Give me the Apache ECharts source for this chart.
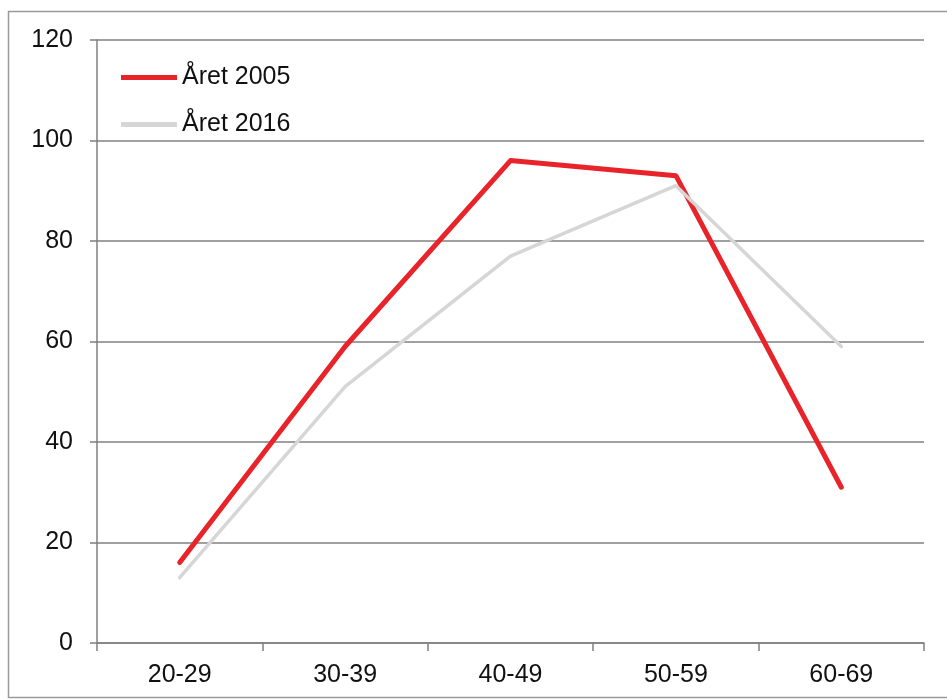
<!DOCTYPE html>
<html>
<head>
<meta charset="utf-8">
<script src="https://cdn.jsdelivr.net/npm/echarts@6/dist/echarts.min.js"></script>
<style>
html,body{margin:0;padding:0;background:#fff;}
#c{width:947px;height:699px;}
</style>
</head>
<body>
<div id="c"></div>
<script>
const categories = ['20-29', '30-39', '40-49', '50-59', '60-69'];
const seriesNames = ['Året 2005', 'Året 2016'];
const values2005 = [16, 59, 96, 93, 31];
const values2016 = [13, 51, 77, 91, 59];
const yTicks = { min: 0, max: 120, interval: 20 };

const chart = echarts.init(document.getElementById('c'), null, { renderer: 'canvas' });
const font = '"Liberation Sans", Arial, sans-serif';
chart.setOption({
  animation: false,
  backgroundColor: '#fff',
  graphic: [{
    type: 'rect',
    shape: { x: 8.5, y: 11.5, width: 946, height: 686 },
    style: { fill: 'none', stroke: '#9a9a9a', lineWidth: 1.5 },
    z: -1
  }],
  grid: { left: 97, right: 23, top: 40, bottom: 56, containLabel: false },
  legend: {
    orient: 'vertical',
    left: 116,
    top: 60,
    itemGap: 22,
    itemWidth: 56,
    itemHeight: 5,
    icon: 'rect',
    textStyle: { fontFamily: font, fontSize: 25, color: '#111' },
    data: seriesNames
  },
  xAxis: {
    type: 'category',
    data: categories,
    boundaryGap: true,
    axisLine: { show: true, lineStyle: { color: '#808080', width: 1.5 } },
    axisTick: { show: true, length: 8, lineStyle: { color: '#808080', width: 1.5 } },
    axisLabel: { fontFamily: font, fontSize: 25, color: '#111', margin: 20 },
    splitLine: { show: false }
  },
  yAxis: {
    type: 'value',
    min: yTicks.min,
    max: yTicks.max,
    interval: yTicks.interval,
    axisLine: { show: true, lineStyle: { color: '#808080', width: 1.5 } },
    axisTick: { show: true, length: 7, lineStyle: { color: '#808080', width: 1.5 } },
    axisLabel: { fontFamily: font, fontSize: 25, color: '#111', margin: 24 },
    splitLine: { show: true, lineStyle: { color: '#808080', width: 1.5 } }
  },
  series: [
    {
      name: seriesNames[0],
      type: 'line',
      data: values2005,
      symbol: 'none',
      color: '#e8232a',
      lineStyle: { color: '#e8232a', width: 5, cap: 'round', join: 'round' }
    },
    {
      name: seriesNames[1],
      type: 'line',
      data: values2016,
      symbol: 'none',
      color: '#d6d6d6',
      lineStyle: { color: '#d6d6d6', width: 3.5, cap: 'round', join: 'round' }
    }
  ]
});
</script>
</body>
</html>
